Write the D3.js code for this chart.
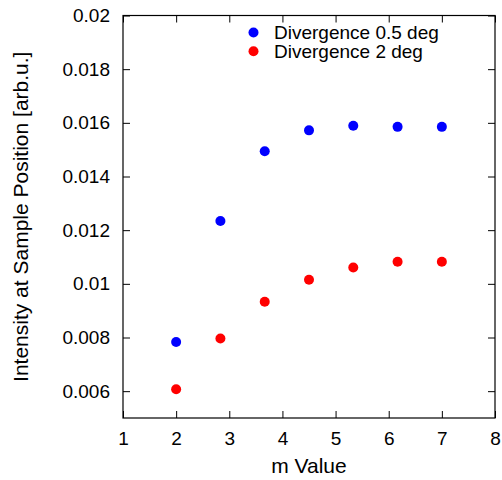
<!DOCTYPE html>
<html>
<head>
<meta charset="utf-8">
<script src="https://cdn.jsdelivr.net/npm/d3@7"></script>
<style>
body{margin:0;background:#fff;}
text{font-family:"Liberation Sans",Arial,sans-serif;fill:#000;}
</style>
</head>
<body>
<svg id="chart" width="502" height="480"></svg>
<script>
// data
var mValues=[2,2.833,3.667,4.5,5.333,6.167,7];
var div05=[0.00783,0.01234,0.01494,0.01572,0.01589,0.01585,0.01585];
var div2=[0.00607,0.00796,0.00933,0.01015,0.01061,0.01082,0.01082];
var seriesNames=["Divergence 0.5 deg","Divergence 2 deg"];
var seriesColors=["#0000ff","#ff0000"];
var xTicks=[1,2,3,4,5,6,7,8];
var yTicks=[0.006,0.008,0.01,0.012,0.014,0.016,0.018,0.02];

var svg=d3.select("#chart");
var pLeft=123,pRight=495,pTop=15.5,pBottom=418;
var fs="19px",titleFs="21px";

var x=d3.scaleLinear().domain([1,8]).range([pLeft,pRight]);
var y=d3.scaleLinear().domain([0.005,0.02]).range([pBottom,pTop]);

var fmt=function(d){return String(+d.toFixed(3));};

//bottom axis + mirrored top ticks
svg.append("g").attr("transform","translate(0,"+pBottom+")")
	.call(d3.axisBottom(x).tickValues(xTicks).tickSize(-7).tickPadding(14).tickFormat(d3.format("d")));
svg.append("g").attr("transform","translate(0,"+pTop+")")
	.call(d3.axisTop(x).tickValues(xTicks).tickSize(-7).tickFormat(""));
//left axis + mirrored right ticks
svg.append("g").attr("transform","translate("+pLeft+",0)")
	.call(d3.axisLeft(y).tickValues(yTicks).tickSize(-7).tickPadding(13).tickFormat(fmt));
svg.append("g").attr("transform","translate("+pRight+",0)")
	.call(d3.axisRight(y).tickValues(yTicks).tickSize(-7).tickFormat(""));

svg.selectAll(".domain").remove();
svg.selectAll(".tick line").attr("stroke","#000").attr("stroke-width",1);
svg.selectAll(".tick text").style("font-size",fs).style("font-family","'Liberation Sans',Arial,sans-serif");

//frame
svg.append("rect")
	.attr("x",pLeft).attr("y",pTop)
	.attr("width",pRight-pLeft).attr("height",pBottom-pTop)
	.attr("fill","none").attr("stroke","#000").attr("stroke-width",1.2);

//points
var series=[div05,div2];
series.forEach(function(vals,i){
	svg.append("g").selectAll("circle")
		.data(vals)
		.enter().append("circle")
		.attr("cx",function(d,j){return x(mValues[j]);})
		.attr("cy",function(d){return y(d);})
		.attr("r",5)
		.attr("fill",seriesColors[i]);
});

//legend
var lg=svg.append("g");
seriesNames.forEach(function(name,i){
	var ly=32.5+i*18.7;
	lg.append("circle").attr("cx",253.5).attr("cy",ly).attr("r",5).attr("fill",seriesColors[i]);
	lg.append("text").attr("x",274).attr("y",ly).attr("dy","0.35em")
		.style("font-size",fs).text(name);
});

//axis titles
svg.append("text")
	.attr("x",(pLeft+pRight)/2).attr("y",473)
	.attr("text-anchor","middle").style("font-size",titleFs)
	.text("m Value");
svg.append("text")
	.attr("transform","translate(28,"+((pTop+pBottom)/2)+") rotate(-90)")
	.attr("text-anchor","middle").style("font-size",titleFs)
	.text("Intensity at Sample Position [arb.u.]");
</script>
</body>
</html>
